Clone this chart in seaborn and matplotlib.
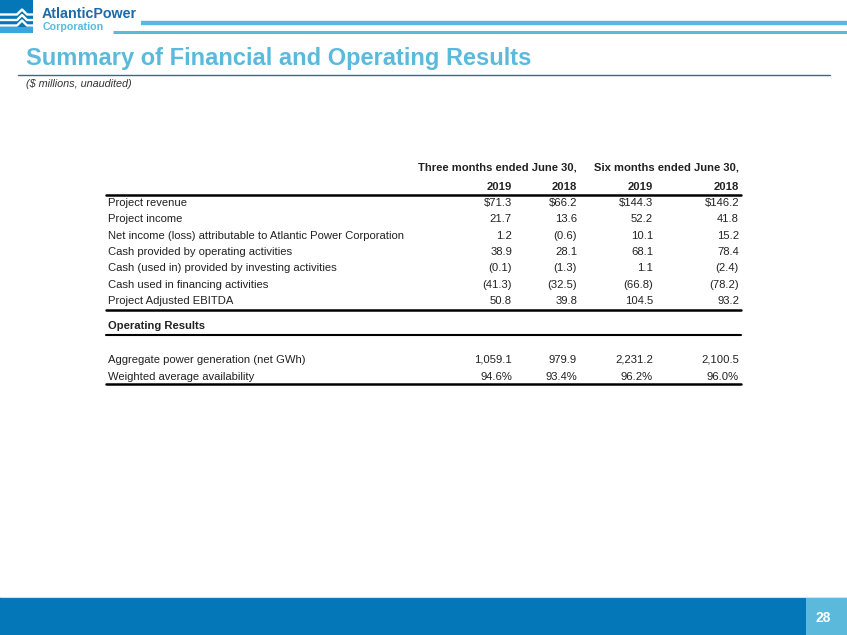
import matplotlib
matplotlib.use("Agg")
import matplotlib.pyplot as plt
import seaborn as sns
import pandas as pd

# ---------------- data ----------------
fin_labels = [
    "Project revenue",
    "Project income",
    "Net income (loss) attributable to Atlantic Power Corporation",
    "Cash provided by operating activities",
    "Cash (used in) provided by investing activities",
    "Cash used in financing activities",
    "Project Adjusted EBITDA",
]
three_2019 = [71.3, 21.7, 1.2, 38.9, -0.1, -41.3, 50.8]
three_2018 = [66.2, 13.6, -0.6, 28.1, -1.3, -32.5, 39.8]
six_2019 = [144.3, 52.2, 10.1, 68.1, 1.1, -66.8, 104.5]
six_2018 = [146.2, 41.8, 15.2, 78.4, -2.4, -78.2, 93.2]

op_labels = ["Aggregate power generation (net GWh)", "Weighted average availability"]
op_generation = [1059.1, 979.9, 2231.2, 2100.5]
op_availability = [94.6, 93.4, 96.2, 96.0]

group_headers = ["Three months ended June 30,", "Six months ended June 30,"]
year_labels = ["2019", "2018", "2019", "2018"]

title = "Summary of Financial and Operating Results"
subtitle = "($ millions, unaudited)"
page_number = "28"

fin_df = pd.DataFrame({"label": fin_labels, "t19": three_2019, "t18": three_2018,
                       "s19": six_2019, "s18": six_2018})

def fmt(v, dollar=False):
    s = f"{abs(v):,.1f}"
    if dollar:
        s = "$" + s
    return f"({s})" if v < 0 else s

# ---------------- style ----------------
sns.set_theme(style="white")
plt.rcParams["font.family"] = ["Liberation Sans", "DejaVu Sans"]

W, H = 847, 635
fig = plt.figure(figsize=(W / 100, H / 100), dpi=100)
ax = fig.add_axes([0, 0, 1, 1])
ax.set_xlim(0, W)
ax.set_ylim(H, 0)
ax.axis("off")

LIGHT = "#5bbadc"
DARK = "#0377b8"
NAVY = "#1d6aa8"
TXT = "#222222"

# logo block
ax.add_patch(plt.Rectangle((0, 0), 33, 33, color=DARK, lw=0))
ax.add_patch(plt.Rectangle((0, 27), 33, 6, color="#3aa6dc", lw=0))
for yy in (14.5, 20, 25.5):
    ax.plot([0, 17, 22, 27, 33], [yy, yy, yy - 5, yy, yy], color="white", lw=1.7,
            solid_capstyle="butt")
ax.text(42, 18, "AtlanticPower", fontsize=10.3, fontweight="bold", color=NAVY,
        va="baseline", ha="left")
ax.text(43, 30.5, "Corporation", fontsize=7.7, fontweight="bold", color=LIGHT,
        va="baseline", ha="left")
# header double lines
ax.plot([141, W], [22.5, 22.5], color=LIGHT, lw=3.2, solid_capstyle="butt")
ax.plot([113, W], [32, 32], color=LIGHT, lw=2.2, solid_capstyle="butt")

# title
ax.text(26, 65, title, fontsize=17, fontweight="bold", color=LIGHT,
        va="baseline", ha="left")
ax.plot([18, 830], [74.5, 74.5], color="#2d6b96", lw=1.0)
ax.text(26, 87, subtitle, fontsize=7.8, style="italic", color="#333333",
        va="baseline", ha="left")

# ---------------- table ----------------
FS = 8.1
label_x = 108
col_x = [512, 577, 653, 739]
line_x0, line_x1 = 106, 741

ax.text(577, 171, group_headers[0], fontsize=FS, fontweight="bold", color=TXT,
        ha="right", va="baseline")
ax.text(739, 171, group_headers[1], fontsize=FS, fontweight="bold", color=TXT,
        ha="right", va="baseline")
for x, yl in zip(col_x, year_labels):
    ax.text(x, 190, yl, fontsize=FS, fontweight="bold", color=TXT,
            ha="right", va="baseline")
ax.plot([line_x0, line_x1], [194.5, 194.5], color="black", lw=1.8)

row_y0, row_dy = 206, 16.3
for i, r in fin_df.iterrows():
    y = row_y0 + i * row_dy
    ax.text(label_x, y, r["label"], fontsize=FS, color=TXT, ha="left", va="baseline")
    for x, key in zip(col_x, ["t19", "t18", "s19", "s18"]):
        ax.text(x, y, fmt(r[key], dollar=(i == 0)), fontsize=FS, color=TXT,
                ha="right", va="baseline")
ax.plot([line_x0, line_x1], [309.5, 309.5], color="black", lw=1.8)

ax.text(label_x, 329, "Operating Results", fontsize=FS, fontweight="bold", color=TXT,
        ha="left", va="baseline")
ax.plot([line_x0, line_x1], [335, 335], color="black", lw=1.5)

op_rows = [
    (op_labels[0], [fmt(v) for v in op_generation]),
    (op_labels[1], [f"{v:.1f}%" for v in op_availability]),
]
for j, (lab, vals) in enumerate(op_rows):
    y = 363 + j * 16.5
    ax.text(label_x, y, lab, fontsize=FS, color=TXT, ha="left", va="baseline")
    for x, s in zip(col_x, vals):
        ax.text(x, y, s, fontsize=FS, color=TXT, ha="right", va="baseline")
ax.plot([line_x0, line_x1], [384, 384], color="black", lw=1.8)

# ---------------- footer ----------------
ax.plot([0, W], [596.5, 596.5], color="#dddddd", lw=0.8)
ax.add_patch(plt.Rectangle((0, 597), W, H - 597, color=DARK, lw=0))
ax.add_patch(plt.Rectangle((806, 597), W - 806, H - 597, color=LIGHT, lw=0))
ax.text(823, 618, page_number, fontsize=10, fontweight="bold", color="white",
        ha="center", va="center")

sns.despine(ax=ax, left=True, bottom=True)
fig.savefig("out.png", dpi=100)
